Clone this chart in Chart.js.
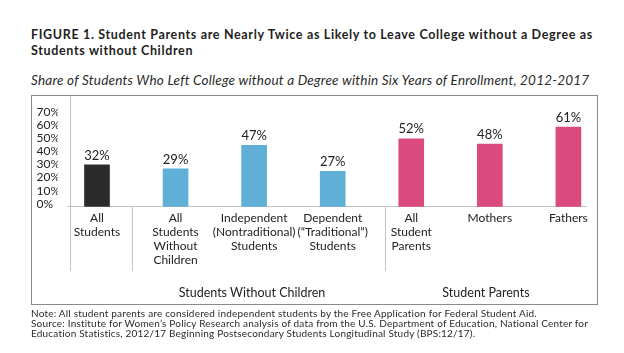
<!DOCTYPE html>
<html>
<head>
<meta charset="utf-8">
<script src="https://cdn.jsdelivr.net/npm/chart.js@4.4.1/dist/chart.umd.min.js"></script>
<style>
  html, body { margin:0; padding:0; background:#fff; }
  body { width:624px; height:353px; position:relative; overflow:hidden; font-family:Lato, "Open Sans", sans-serif; color:#1e1e1e; }
  #title { position:absolute; left:31px; top:27px; font-weight:bold; font-size:12.5px; line-height:15.5px; letter-spacing:0.66px; white-space:nowrap; }
  #subtitle { position:absolute; left:31px; top:71px; font-style:italic; font-size:13.5px; line-height:18px; letter-spacing:0.22px; white-space:nowrap; color:#2a2a2a; }
  #box { position:absolute; left:31px; top:95px; width:565px; height:208px; border:1px solid #8a8a8a; }
  #wrap { position:absolute; left:0; top:95px; width:624px; height:209px; }
  .grp { position:absolute; top:286px; font-size:12.5px; line-height:14px; white-space:nowrap; transform:translateX(-50%); color:#222; }
  #note { position:absolute; left:31px; top:309px; font-size:10px; line-height:9.8px; letter-spacing:0.2px; white-space:nowrap; color:#2a2a2a; }
</style>
</head>
<body>
<div id="title">FIGURE 1. Student Parents are Nearly Twice as Likely to Leave College without a Degree as<br>Students without Children</div>
<div id="subtitle">Share of Students Who Left College without a Degree within Six Years of Enrollment, 2012-2017</div>
<div id="box"></div>
<div id="wrap"><canvas id="c" width="624" height="209"></canvas></div>
<div class="grp" id="g1" style="left:252px"></div>
<div class="grp" id="g2" style="left:486px"></div>
<div id="note">Note: All student parents are considered independent students by the Free Application for Federal Student Aid.<br>Source: Institute for Women’s Policy Research analysis of data from the U.S. Department of Education, National Center for<br>Education Statistics, 2012/17 Beginning Postsecondary Students Longitudinal Study (BPS:12/17).</div>
<script>
// ---- data ----
const categories = [
  ["All", "Students"],
  ["All", "Students", "Without", "Children"],
  ["Independent", "(Nontraditional)", "Students"],
  ["Dependent", "(\u201CTraditional\u201D)", "Students"],
  ["All", "Student", "Parents"],
  ["Mothers"],
  ["Fathers"]
];
const values = [32, 29, 47, 27, 52, 48, 61];
const barColors = ["#2b2b2b", "#5fafd7", "#5fafd7", "#5fafd7", "#da4a7f", "#da4a7f", "#da4a7f"];
const groupLabels = ["Students Without Children", "Student Parents"];
const yTickValues = [0, 10, 20, 30, 40, 50, 60, 70];

document.getElementById('g1').textContent = groupLabels[0];
document.getElementById('g2').textContent = groupLabels[1];

const valueLabels = {
  id: 'valueLabels',
  afterDatasetsDraw(chart) {
    const ctx = chart.ctx;
    const meta = chart.getDatasetMeta(0);
    ctx.save();
    ctx.font = '13px Lato, sans-serif';
    ctx.fillStyle = '#222';
    ctx.textAlign = 'center';
    ctx.textBaseline = 'middle';
    meta.data.forEach((bar, i) => {
      ctx.fillText(values[i] + '%', bar.x, bar.y - 9.5);
    });
    ctx.restore();
  }
};

const axisLines = {
  id: 'axisLines',
  beforeDatasetsDraw(chart) {
    const ctx = chart.ctx;
    const y0 = Math.round(chart.scales.y.getPixelForValue(0)) - 0.5;
    ctx.save();
    ctx.strokeStyle = '#c4c4c4';
    ctx.lineWidth = 1;
    ctx.beginPath();
    ctx.moveTo(67.5, y0); ctx.lineTo(587, y0);
    ctx.moveTo(70.5, 1); ctx.lineTo(70.5, 176);
    ctx.moveTo(132.5, y0); ctx.lineTo(132.5, 176);
    ctx.moveTo(385.5, y0); ctx.lineTo(385.5, 176);
    ctx.stroke();
    ctx.restore();
  }
};

new Chart(document.getElementById('c'), {
  type: 'bar',
  data: {
    labels: categories,
    datasets: [{
      data: values,
      backgroundColor: barColors,
      borderWidth: 0,
      barThickness: 25
    }]
  },
  options: {
    responsive: false,
    devicePixelRatio: 1,
    animation: false,
    layout: { padding: { left: 36.5, right: 16.3, top: 2.1, bottom: 0 } },
    plugins: { legend: { display: false }, tooltip: { enabled: false } },
    scales: {
      x: {
        offset: true,
        grid: { display: false, drawTicks: false },
        border: { display: false },
        ticks: {
          color: '#222',
          font: { family: 'Lato, sans-serif', size: 12, lineHeight: 1.17 },
          padding: 4,
          maxRotation: 0,
          autoSkip: false
        },
        afterFit(scale) { scale.height = 97.3; }
      },
      y: {
        min: 0,
        max: 80,
        grid: { display: false, drawTicks: false },
        border: { display: false },
        afterBuildTicks(scale) { scale.ticks = yTickValues.map(v => ({ value: v })); },
        ticks: {
          color: '#222',
          font: { family: 'Lato, sans-serif', size: 12 },
          crossAlign: 'far',
          labelOffset: -3,
          padding: 0,
          autoSkip: false,
          callback: v => v + '%'
        },
        afterFit(scale) { scale.width = 21.2; }
      }
    }
  },
  plugins: [axisLines, valueLabels]
});
</script>
</body>
</html>
